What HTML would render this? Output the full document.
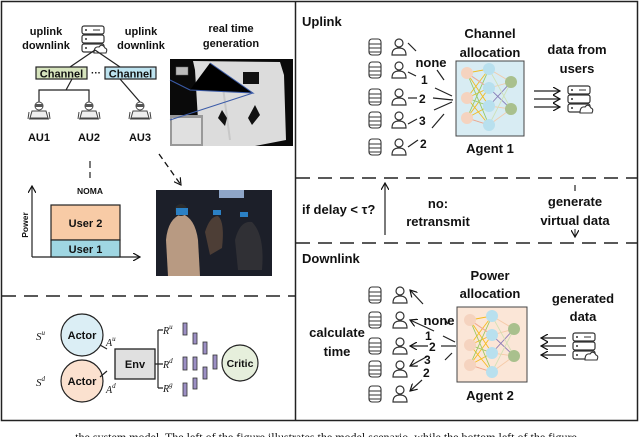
<!DOCTYPE html>
<html><head><meta charset="utf-8"><style>
html,body{margin:0;padding:0;background:#fff;width:640px;height:437px;overflow:hidden}
svg text{font-family:"Liberation Sans",sans-serif;font-weight:bold;fill:#111}
</style></head><body>
<svg width="640" height="437" viewBox="0 0 640 437" xmlns="http://www.w3.org/2000/svg">
<defs>
<marker id="ah" markerWidth="8" markerHeight="8" refX="7" refY="4" orient="auto" markerUnits="userSpaceOnUse"><path d="M0,0 L7,4 L0,8" fill="none" stroke="#111" stroke-width="1.2"/></marker>
<g id="db"><rect x="-6" y="-8" width="12" height="16" rx="3" fill="#fff" stroke="#333" stroke-width="1.1"/><line x1="-6" y1="-3" x2="6" y2="-3" stroke="#333"/><line x1="-6" y1="1" x2="6" y2="1" stroke="#333"/><line x1="-6" y1="5" x2="6" y2="5" stroke="#333"/></g>
<g id="person"><circle cx="0" cy="-4" r="4" fill="#fff" stroke="#333" stroke-width="1.2"/><path d="M-7,8 Q-7,1 0,1 Q7,1 7,8 Z" fill="#fff" stroke="#333" stroke-width="1.2"/></g>
<g id="server"><rect x="-11" y="-14" width="22" height="8" rx="2" fill="#fff" stroke="#333" stroke-width="1.2"/><rect x="-11" y="-5" width="22" height="8" rx="2" fill="#fff" stroke="#333" stroke-width="1.2"/><rect x="-11" y="4" width="22" height="8" rx="2" fill="#fff" stroke="#333" stroke-width="1.2"/><circle cx="-7" cy="-10" r="1" fill="#333"/><circle cx="-7" cy="-1" r="1" fill="#333"/><circle cx="-7" cy="8" r="1" fill="#333"/><line x1="0" y1="-10" x2="7" y2="-10" stroke="#333"/><path d="M1,13 Q1,6 6,7 Q9,3 12,8 Q15,9 13,13 Z" fill="#fff" stroke="#333" stroke-width="1.1"/></g>
<g id="au"><circle cx="0" cy="-6" r="4" fill="#fff" stroke="#444"/><rect x="-4" y="-8" width="8" height="3" fill="#555"/><path d="M-9,6 L-7,-1 L7,-1 L9,6 Z" fill="#eee" stroke="#444"/><path d="M-10,7 L10,7" stroke="#444"/><path d="M-10,0 L-11,7 M10,0 L11,7" stroke="#444"/></g>
<g id="nn">
<g stroke-width="0.9" opacity="0.85">
<path d="M11,11 L33,7 M11,11 L33,26 M11,11 L33,44 M11,36 L33,7 M11,36 L33,26 M11,36 L33,63 M11,56 L33,26 M11,56 L33,44 M11,56 L33,63" stroke="#f4b400"/>
<path d="M11,11 L33,63 M11,36 L33,44 M11,56 L33,7" stroke="#8bc34a"/>
<path d="M11,11 L33,26 M11,56 L33,63" stroke="#e99"/>
<path d="M33,7 L55,20 M33,26 L55,20 M33,44 L55,47 M33,63 L55,47" stroke="#f5c6a0"/>
<path d="M33,26 L55,47 M33,44 L55,20" stroke="#7a6bb0"/>
<path d="M33,7 L55,47 M33,63 L55,20" stroke="#cde0b0"/>
</g>
<circle cx="11" cy="11" r="6" fill="#f5d3bf"/><circle cx="11" cy="36" r="6" fill="#f5d3bf"/><circle cx="11" cy="56" r="6" fill="#f5d3bf"/>
<circle cx="33" cy="7" r="6" fill="#b8e0ee"/><circle cx="33" cy="26" r="6" fill="#b8e0ee"/><circle cx="33" cy="44" r="6" fill="#b8e0ee"/><circle cx="33" cy="63" r="6" fill="#b8e0ee"/>
<circle cx="55" cy="20" r="6" fill="#a9c08d"/><circle cx="55" cy="47" r="6" fill="#a9c08d"/>
</g>
</defs>

<rect x="1.5" y="1.5" width="636" height="419" fill="none" stroke="#222" stroke-width="1.5"/>
<line x1="295.5" y1="1" x2="295.5" y2="421" stroke="#222" stroke-width="1.5"/>
<line x1="2" y1="296" x2="295" y2="296" stroke="#222" stroke-width="1.5" stroke-dasharray="14,8"/>
<line x1="296" y1="178" x2="637" y2="178" stroke="#222" stroke-width="1.5" stroke-dasharray="14,8"/>
<line x1="296" y1="243" x2="637" y2="243" stroke="#222" stroke-width="1.5" stroke-dasharray="14,8"/>

<text x="46" y="35" font-size="11" text-anchor="middle">uplink</text>
<text x="46" y="49" font-size="11" text-anchor="middle">downlink</text>
<text x="141" y="35" font-size="11" text-anchor="middle">uplink</text>
<text x="141" y="49" font-size="11" text-anchor="middle">downlink</text>
<use href="#server" x="93" y="40"/>
<line x1="95" y1="50" x2="70" y2="67" stroke="#222" stroke-width="1.2"/>
<line x1="95" y1="50" x2="120" y2="67" stroke="#222" stroke-width="1.2"/>
<rect x="36" y="67" width="51" height="12" fill="#d6e4bd" stroke="#222" stroke-width="1.2"/>
<rect x="105" y="67" width="51" height="12" fill="#bde3ef" stroke="#222" stroke-width="1.2"/>
<text x="61.5" y="77.5" font-size="11" text-anchor="middle">Channel</text>
<text x="130.5" y="77.5" font-size="11" text-anchor="middle">Channel</text>
<text x="96" y="76" font-size="10" text-anchor="middle">···</text>
<path d="M72,79 L66,90 L39,90 L39,103 M66,90 L89,90 L89,103" fill="none" stroke="#222" stroke-width="1.2"/>
<line x1="120" y1="79" x2="140" y2="102" stroke="#222" stroke-width="1.2"/>
<use href="#au" x="39" y="112"/><use href="#au" x="89" y="112"/><use href="#au" x="140" y="112"/>
<text x="39" y="141" font-size="11" text-anchor="middle">AU1</text>
<text x="89" y="141" font-size="11" text-anchor="middle">AU2</text>
<text x="140" y="141" font-size="11" text-anchor="middle">AU3</text>
<text x="231" y="32" font-size="11" text-anchor="middle">real time</text>
<text x="231" y="47" font-size="11" text-anchor="middle">generation</text>
<rect x="170" y="59" width="123" height="87" fill="#0a0a0a"/>
<path d="M193,61 L280,62 L284,75 L286,140 L255,146 L200,146 L198,120 L195,70 Z" fill="#dcdcdc"/>
<path d="M222,80 L230,140" stroke="#c8c8c8" stroke-width="2"/>
<rect x="243" y="72" width="16" height="12" fill="#111"/>
<path d="M222,110 L227,118 L225,126 L218,118Z M255,105 L260,115 L252,125 L248,118Z" fill="#111"/>
<rect x="170" y="115" width="33" height="31" fill="#999"/>
<rect x="172" y="118" width="29" height="26" fill="#e0e0e0"/>
<path d="M170,120 L253,93 M190,90 L253,93 L210,63 M170,80 L190,90" stroke="#3b5ba8" stroke-width="1"/>
<rect x="176" y="67" width="12" height="8" fill="#bbb" stroke="#666" stroke-width="0.5"/>
<line x1="159" y1="154" x2="181" y2="185" stroke="#111" stroke-width="1.3" stroke-dasharray="6,4" marker-end="url(#ah)"/>
<rect x="156" y="190" width="116" height="86" fill="#1c1f29"/>
<rect x="219" y="190" width="25" height="8" fill="#8fa6c8"/>
<path d="M166,240 Q168,218 182,214 Q195,218 198,240 L200,276 L168,276 Z" fill="#b89a82"/>
<circle cx="181" cy="210" r="6" fill="#2a2a2a"/><rect x="176" y="208" width="12" height="7" fill="#2b80c4"/>
<path d="M205,232 Q210,216 218,216 Q225,222 222,248 L210,255 Z" fill="#4d3e36"/>
<path d="M235,240 Q240,220 252,222 Q265,235 262,270 L238,270 Z" fill="#303035"/>
<rect x="213" y="210" width="8" height="5" fill="#2b80c4"/><rect x="240" y="212" width="8" height="5" fill="#2b80c4"/>
<line x1="90" y1="161" x2="90" y2="178" stroke="#222" stroke-width="1.2" stroke-dasharray="7,4"/>
<text x="90" y="194" font-size="8.5" text-anchor="middle">NOMA</text>
<line x1="32" y1="257" x2="32" y2="186" stroke="#222" stroke-width="1.2" marker-end="url(#ah)"/>
<line x1="32" y1="257" x2="140" y2="257" stroke="#222" stroke-width="1.2" marker-end="url(#ah)"/>
<text transform="translate(28,225) rotate(-90)" font-size="8.5" text-anchor="middle">Power</text>
<rect x="51" y="205" width="69" height="35" fill="#f8cba6" stroke="#222" stroke-width="1.2"/>
<rect x="51" y="240" width="69" height="17" fill="#9fd6e2" stroke="#222" stroke-width="1.2"/>
<text x="85.5" y="227" font-size="11" text-anchor="middle">User 2</text>
<text x="85.5" y="253" font-size="11" text-anchor="middle">User 1</text>

<text x="36" y="340" font-size="11" style="font-family:'Liberation Serif',serif;font-weight:normal" fill="#777" font-style="italic">S<tspan font-size="7" dy="-5">u</tspan></text>
<text x="36" y="386" font-size="11" style="font-family:'Liberation Serif',serif;font-weight:normal" fill="#777" font-style="italic">S<tspan font-size="7" dy="-5">d</tspan></text>
<circle cx="82" cy="335" r="21" fill="#dbeef5" stroke="#222" stroke-width="1.2"/>
<circle cx="82" cy="381" r="21" fill="#fbe1cf" stroke="#222" stroke-width="1.2"/>
<text x="82" y="339" font-size="11" text-anchor="middle">Actor</text>
<text x="82" y="385" font-size="11" text-anchor="middle">Actor</text>
<text x="106" y="346" font-size="10" style="font-family:'Liberation Serif',serif;font-weight:normal" fill="#777" font-style="italic">A<tspan font-size="7" dy="-5">u</tspan></text>
<text x="106" y="393" font-size="10" style="font-family:'Liberation Serif',serif;font-weight:normal" fill="#777" font-style="italic">A<tspan font-size="7" dy="-5">d</tspan></text>
<path d="M100,345 L107,349 M100,377 L107,371" stroke="#222" stroke-width="1.2"/>
<rect x="115" y="349" width="40" height="30" fill="#e0e0e0" stroke="#222" stroke-width="1.3"/>
<text x="135" y="368" font-size="11" text-anchor="middle">Env</text>
<path d="M155,364 L158,364 M158,330 L158,388 M158,330 L163,330 M158,364 L163,364 M158,388 L163,388" stroke="#222" stroke-width="1.2"/>
<text x="163" y="334" font-size="10" style="font-family:'Liberation Serif',serif;font-weight:normal" fill="#777" font-style="italic">R<tspan font-size="7" dy="-5">u</tspan></text>
<text x="163" y="368" font-size="10" style="font-family:'Liberation Serif',serif;font-weight:normal" fill="#777" font-style="italic">R<tspan font-size="7" dy="-5">d</tspan></text>
<text x="163" y="392" font-size="10" style="font-family:'Liberation Serif',serif;font-weight:normal" fill="#777" font-style="italic">R<tspan font-size="7" dy="-5">g</tspan></text>
<g fill="#9c8fc4" stroke="#333" stroke-width="0.8">
<rect x="183" y="323" width="4" height="12"/><rect x="183" y="357" width="4" height="13"/><rect x="183" y="383" width="4" height="13"/>
<rect x="193" y="333" width="4" height="11"/><rect x="193" y="357" width="4" height="13"/><rect x="193" y="378" width="4" height="11"/>
<rect x="203" y="342" width="4" height="12"/><rect x="203" y="367" width="4" height="12"/>
<rect x="213" y="355" width="4" height="14"/>
</g>
<circle cx="240" cy="363" r="18" fill="#e6efdc" stroke="#222" stroke-width="1.2"/>
<text x="240" y="367" font-size="10.5" text-anchor="middle">Critic</text>

<text x="302" y="26" font-size="13">Uplink</text>
<use href="#db" x="375" y="47"/><use href="#db" x="375" y="70"/><use href="#db" x="375" y="97"/><use href="#db" x="375" y="120"/><use href="#db" x="375" y="147"/>
<use href="#person" x="399" y="47"/><use href="#person" x="399" y="70"/><use href="#person" x="399" y="97"/><use href="#person" x="399" y="120"/><use href="#person" x="399" y="147"/>
<g stroke="#222" stroke-width="1.2">
<line x1="408" y1="43" x2="416" y2="51"/><line x1="437" y1="70" x2="444" y2="80"/>
<line x1="408" y1="72" x2="416" y2="76"/><line x1="435" y1="88" x2="452" y2="96"/>
<line x1="408" y1="98" x2="417" y2="98"/><line x1="433" y1="98" x2="453" y2="100"/>
<line x1="408" y1="124" x2="417" y2="119"/><line x1="434" y1="110" x2="452" y2="102"/>
<line x1="408" y1="147" x2="418" y2="140"/><line x1="432" y1="128" x2="444" y2="114"/>
</g>
<text x="431" y="67" font-size="13" text-anchor="middle">none</text>
<text x="421" y="84" font-size="12">1</text>
<text x="419" y="103" font-size="12">2</text>
<text x="419" y="125" font-size="12">3</text>
<text x="420" y="148" font-size="12">2</text>
<text x="490" y="38" font-size="13" text-anchor="middle">Channel</text>
<text x="490" y="57" font-size="13" text-anchor="middle">allocation</text>
<rect x="456" y="61" width="68" height="75" fill="#d8ecf3" stroke="#444" stroke-width="1"/>
<use href="#nn" x="456" y="62"/>
<text x="490" y="153" font-size="13" text-anchor="middle">Agent 1</text>
<text x="577" y="54" font-size="13" text-anchor="middle">data from</text>
<text x="577" y="73" font-size="13" text-anchor="middle">users</text>
<g stroke="#222" stroke-width="1.2"><line x1="534" y1="91" x2="560" y2="91" marker-end="url(#ah)"/><line x1="534" y1="99" x2="560" y2="99" marker-end="url(#ah)"/><line x1="534" y1="107" x2="560" y2="107" marker-end="url(#ah)"/></g>
<use href="#server" x="579" y="100"/>

<text x="302" y="214" font-size="13">if delay &lt; τ?</text>
<line x1="385" y1="235" x2="385" y2="183" stroke="#222" stroke-width="1.2" marker-end="url(#ah)"/>
<text x="438" y="208" font-size="13" text-anchor="middle">no:</text>
<text x="438" y="226" font-size="13" text-anchor="middle">retransmit</text>
<line x1="575" y1="185" x2="575" y2="191" stroke="#222" stroke-width="1.2"/>
<text x="575" y="206" font-size="13" text-anchor="middle">generate</text>
<text x="575" y="225" font-size="13" text-anchor="middle">virtual data</text>
<line x1="575" y1="229" x2="575" y2="237" stroke="#222" stroke-width="1" marker-end="url(#ah)"/>

<text x="302" y="263" font-size="13">Downlink</text>
<text x="490" y="280" font-size="13" text-anchor="middle">Power</text>
<text x="490" y="298" font-size="13" text-anchor="middle">allocation</text>
<use href="#db" x="375" y="295"/><use href="#db" x="375" y="320"/><use href="#db" x="375" y="346"/><use href="#db" x="375" y="369"/><use href="#db" x="375" y="394"/>
<use href="#person" x="400" y="295"/><use href="#person" x="400" y="320"/><use href="#person" x="400" y="346"/><use href="#person" x="400" y="369"/><use href="#person" x="400" y="394"/>
<g stroke="#222" stroke-width="1.2">
<line x1="423" y1="304" x2="410" y2="290" marker-end="url(#ah)"/>
<line x1="434" y1="331" x2="410" y2="320" marker-end="url(#ah)"/><line x1="443" y1="336" x2="455" y2="342"/><line x1="446" y1="321" x2="448" y2="324"/>
<line x1="428" y1="346" x2="410" y2="346" marker-end="url(#ah)"/><line x1="441" y1="346" x2="456" y2="346"/>
<line x1="428" y1="356" x2="410" y2="366" marker-end="url(#ah)"/><line x1="445" y1="360" x2="452" y2="353"/>
<line x1="422" y1="380" x2="410" y2="391" marker-end="url(#ah)"/>
</g>
<text x="439" y="325" font-size="13" text-anchor="middle">none</text>
<text x="425" y="340" font-size="12">1</text>
<text x="429" y="351" font-size="12">2</text>
<text x="424" y="364" font-size="12">3</text>
<text x="423" y="377" font-size="12">2</text>
<text x="337" y="337" font-size="13" text-anchor="middle">calculate</text>
<text x="337" y="356" font-size="13" text-anchor="middle">time</text>
<rect x="457" y="307" width="70" height="75" fill="#fbe6d7" stroke="#444" stroke-width="1"/>
<use href="#nn" x="459" y="309"/>
<text x="490" y="400" font-size="13" text-anchor="middle">Agent 2</text>
<text x="583" y="303" font-size="13" text-anchor="middle">generated</text>
<text x="583" y="321" font-size="13" text-anchor="middle">data</text>
<g stroke="#222" stroke-width="1.2"><line x1="566" y1="338" x2="541" y2="338" marker-end="url(#ah)"/><line x1="566" y1="346" x2="541" y2="346" marker-end="url(#ah)"/><line x1="566" y1="355" x2="541" y2="355" marker-end="url(#ah)"/></g>
<use href="#server" x="584" y="347"/>

<text x="320" y="441" font-size="12" text-anchor="middle" style="font-family:'Liberation Serif',serif;font-weight:normal" fill="#333">... the system model. The left of the figure illustrates the model scenario, while the bottom left of the figure</text>
</svg>
</body></html>
